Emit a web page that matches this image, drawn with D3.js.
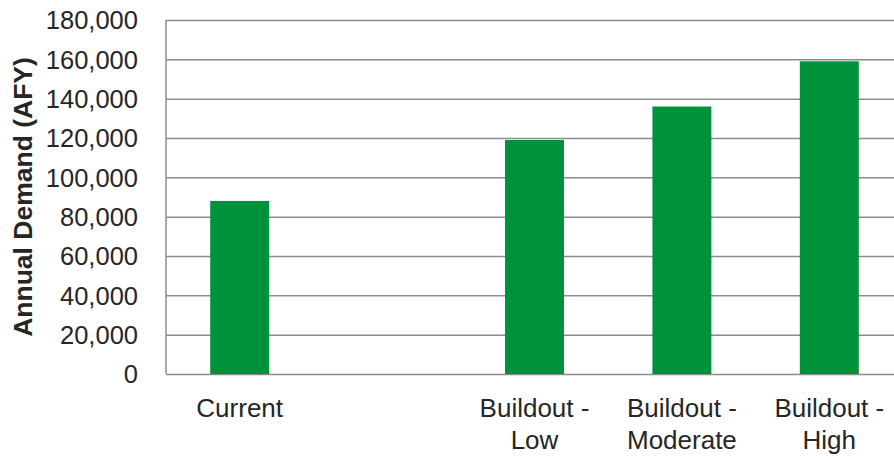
<!DOCTYPE html>
<html>
<head>
<meta charset="utf-8">
<script src="https://cdn.jsdelivr.net/npm/d3@7"></script>
<style>
  body { margin: 0; background: #fff; }
  text { font-family: "Liberation Sans", Arial, Helvetica, sans-serif; fill: #262626; }
</style>
</head>
<body>
<div id="chart"></div>
<script>
// chart data
const categories = ['Current', '', 'Buildout - Low', 'Buildout - Moderate', 'Buildout - High'];
const demand = [88000, null, 119000, 136000, 159000];
const y_ticks = [0, 20000, 40000, 60000, 80000, 100000, 120000, 140000, 160000, 180000];

const margin = {top: 20, left: 166, bottom: 82, right: 0};
const full_width = 894;
const full_height = 456;
const height = full_height - margin.top - margin.bottom;
const band_width = 737; // last slot runs past the right edge in the original

const svg = d3.select('#chart')
   .append('svg')
   .attr('width', full_width)
   .attr('height', full_height);

const chart = svg.append('g')
   .attr('transform', `translate(${margin.left}, ${margin.top})`);

const x_scale = d3.scaleBand()
   .domain(categories)
   .range([0, band_width])
   .paddingInner(0.6)
   .paddingOuter(0.3);

const y_scale = d3.scaleLinear()
   .domain([0, 180000])
   .range([height, 0]);

// gridlines
chart.append('g')
   .attr('class', 'grid')
   .call(d3.axisLeft(y_scale).tickValues(y_ticks).tickSize(-band_width).tickFormat(''))
   .call(g => g.select('.domain').remove())
   .selectAll('line')
   .attr('stroke', '#8c8c8c')
   .attr('stroke-width', 1.5);

// left axis line
chart.append('line')
   .attr('x1', 0).attr('x2', 0)
   .attr('y1', 0).attr('y2', height)
   .attr('stroke', '#8c8c8c')
   .attr('stroke-width', 1.5);

// y tick labels
const y_axis = chart.append('g')
   .call(d3.axisLeft(y_scale).tickValues(y_ticks).tickSize(0).tickPadding(28).tickFormat(d3.format(',')));
y_axis.select('.domain').remove();
y_axis.selectAll('text')
   .style('font-size', '25.5px')
   .attr('fill', '#262626')
   .attr('dy', '0.35em');

// bars
chart.append('g')
   .selectAll('.bar')
   .data(categories.map((c, i) => ({name: c, value: demand[i]})).filter(d => d.value != null))
   .join('rect')
   .attr('class', 'bar')
   .attr('x', d => x_scale(d.name))
   .attr('y', d => y_scale(d.value))
   .attr('width', x_scale.bandwidth())
   .attr('height', d => height - y_scale(d.value))
   .attr('fill', '#00923a');

// x labels, wrapped at the dash
const x_labels = chart.append('g')
   .selectAll('text')
   .data(categories)
   .join('text')
   .attr('x', d => x_scale(d) + x_scale.bandwidth() / 2)
   .attr('y', height + 43)
   .attr('text-anchor', 'middle')
   .style('font-size', '26px');

x_labels.each(function(d) {
   const parts = d.split(' - ');
   const lines = parts.length > 1 ? [parts[0] + ' -', parts[1]] : [d];
   d3.select(this).selectAll('tspan')
      .data(lines)
      .join('tspan')
      .attr('x', x_scale(d) + x_scale.bandwidth() / 2)
      .attr('dy', (_, i) => i === 0 ? 0 : 32)
      .text(t => t);
});

// y axis title
svg.append('text')
   .attr('transform', `translate(32, ${margin.top + height / 2}) rotate(-90)`)
   .attr('text-anchor', 'middle')
   .style('font-size', '26.5px')
   .style('font-weight', 'bold')
   .text('Annual Demand (AFY)');
</script>
</body>
</html>
